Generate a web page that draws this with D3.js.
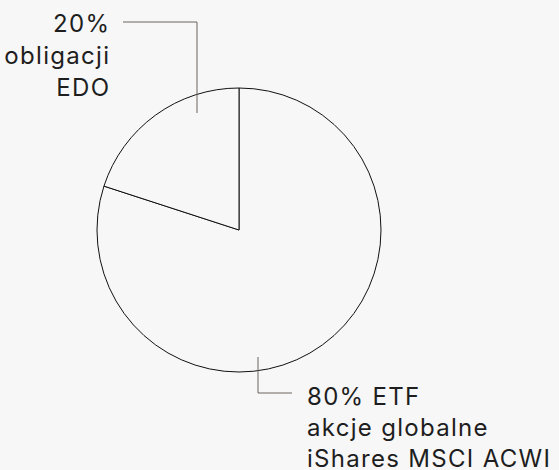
<!DOCTYPE html>
<html><head><meta charset="utf-8">
<script src="https://cdn.jsdelivr.net/npm/d3@7"></script>
<style>
html,body{margin:0;padding:0;background:#f7f7f7;}
svg{display:block;}
text{font-family:Inter,"Noto Sans",sans-serif;fill:#1e1e1e;}
</style></head>
<body>
<script>
const categories = ["80% ETF akcje globalne iShares MSCI ACWI", "20% obligacji EDO"];
const values = [80, 20];
const labelLines = [
  ["80% ETF", "akcje globalne", "iShares MSCI ACWI"],
  ["20%", "obligacji", "EDO"]
];

const W = 559, H = 470;
const cx = 239, cy = 230, R = 142;

const svg = d3.select("body").append("svg").attr("width", W).attr("height", H);

const pie = d3.pie().sort(null).value(d => d)
  .startAngle(0).endAngle(2 * Math.PI);
const arcs = pie(values);
const arc = d3.arc().innerRadius(0).outerRadius(R);

const g = svg.append("g").attr("transform", `translate(${cx},${cy})`);
g.selectAll("path").data(arcs).join("path")
  .attr("d", arc)
  .attr("fill", "#f7f7f7")
  .attr("stroke", "#111")
  .attr("stroke-width", 1);

const lead = svg.append("g").attr("fill", "none").attr("stroke", "#6a6460").attr("stroke-width", 1);
lead.append("path").attr("d", `M123,22H197V113`);
lead.append("path").attr("d", `M258,357V393H292`);

const fs = 24, ls = 1.3;
const t1 = svg.append("text").attr("text-anchor", "end").attr("font-size", fs).attr("letter-spacing", ls);
labelLines[1].forEach((s, i) => t1.append("tspan").attr("x", 109 + ls).attr("y", 32 + i * 32).text(s));

const t0 = svg.append("text").attr("text-anchor", "start").attr("font-size", fs).attr("letter-spacing", ls);
labelLines[0].forEach((s, i) => t0.append("tspan").attr("x", 307).attr("y", 405 + i * 31).text(s));
</script>
</body></html>
